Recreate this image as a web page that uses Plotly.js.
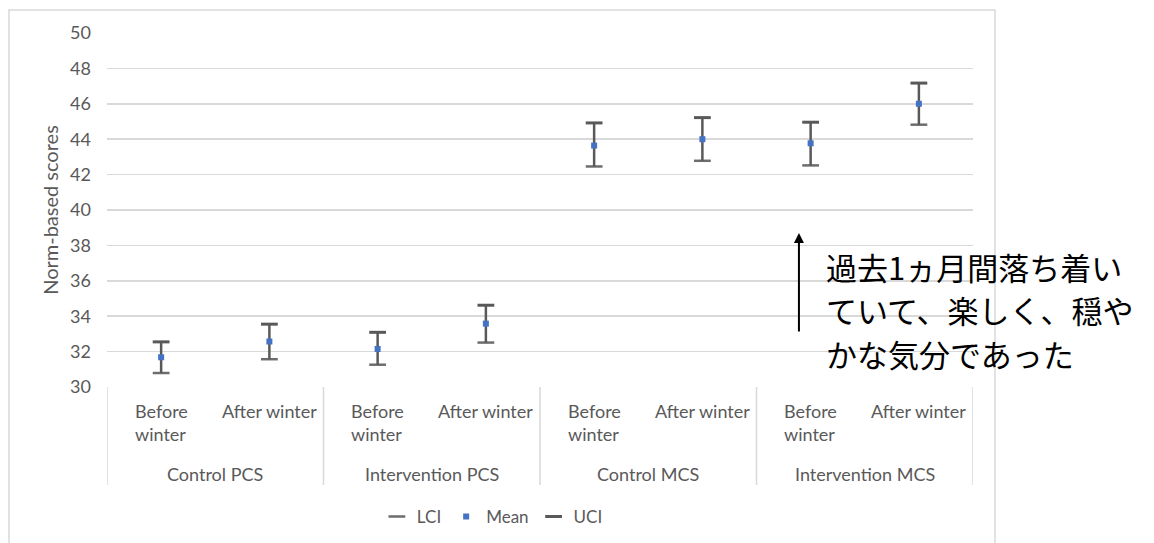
<!DOCTYPE html>
<html>
<head>
<meta charset="utf-8">
<script src="https://cdn.plot.ly/plotly-3.0.1.min.js"></script>
<style>html,body{margin:0;padding:0;background:#fff;}#chart{width:1154px;height:543px;}</style>
</head>
<body>
<div id="chart"></div>
<script>
const groups = ['Control PCS', 'Intervention PCS', 'Control MCS', 'Intervention MCS'];
const phases = ['Before<br>winter', 'After winter'];
const meanVals = [31.68, 32.57, 32.15, 33.58, 43.64, 44.0, 43.77, 46.0];
const lciVals  = [30.79, 31.57, 31.26, 32.51, 42.46, 42.78, 42.52, 44.82];
const uciVals  = [32.55, 33.55, 33.09, 34.62, 44.92, 45.22, 44.96, 47.17];
const yTicks = [30, 32, 34, 36, 38, 40, 42, 44, 46, 48, 50];
const noteLines = ['過去1ヵ月間落ち着い', 'ていて、楽しく、穏や', 'かな気分であった'];

const pos = meanVals.map((_, i) => i + 1);
const gray = '#595959';
const font = 'Lato, "Open Sans", "Liberation Sans", sans-serif';

const traces = [
  {
    name: 'LCI', x: pos, y: lciVals, type: 'scatter', mode: 'markers',
    marker: {symbol: 'line-ew', size: 12, color: '#6d6d6d', line: {color: '#6d6d6d', width: 2.5}},
    hoverinfo: 'y'
  },
  {
    name: 'Mean', x: pos, y: meanVals, type: 'scatter', mode: 'markers',
    marker: {symbol: 'square', size: 6, color: '#4472c4'},
    error_y: {
      type: 'data', symmetric: false,
      array: uciVals.map((u, i) => u - meanVals[i]),
      arrayminus: lciVals.map((l, i) => meanVals[i] - l),
      color: gray, thickness: 2.5, width: 0
    }
  },
  {
    name: 'UCI', x: pos, y: uciVals, type: 'scatter', mode: 'markers',
    marker: {symbol: 'line-ew', size: 12, color: gray, line: {color: gray, width: 3}},
    hoverinfo: 'y'
  }
];

const annotations = [];
pos.forEach((p, i) => {
  annotations.push({
    x: p, xref: 'x', y: -0.03, yref: 'paper', yanchor: 'top', xanchor: 'center',
    text: phases[i % 2], showarrow: false, align: 'left',
    font: {family: font, size: 18, color: gray}
  });
});
groups.forEach((g, gi) => {
  annotations.push({
    x: gi * 2 + 1.5, xref: 'x', y: -0.245, yref: 'paper', yanchor: 'middle', xanchor: 'center',
    text: g, showarrow: false, font: {family: font, size: 18, color: gray}
  });
});
// arrow
annotations.push({
  x: 0.799, xref: 'paper', y: 0.435, yref: 'paper', text: '', showarrow: true,
  ax: 0, ay: 100, arrowhead: 2, arrowsize: 1, arrowwidth: 2, arrowcolor: '#000'
});
const noteY = [0.339, 0.220, 0.096];
noteLines.forEach((t, i) => {
  annotations.push({
    x: 0.8275, xref: 'paper', y: noteY[i], yref: 'paper', xanchor: 'left', yanchor: 'middle',
    text: t, showarrow: false,
    font: {family: '"Noto Sans CJK JP", sans-serif', size: 31, color: '#000'}
  });
});

const shapes = [];
// category box dividers
[0.5, 2.5, 4.5, 6.5, 8.5].forEach(xv => {
  shapes.push({type: 'line', xref: 'x', yref: 'paper', x0: xv, x1: xv, y0: 0, y1: -0.277,
    line: {color: '#d9d9d9', width: 1.5}});
});
// outer chart border
shapes.push({type: 'rect', xref: 'paper', yref: 'paper', x0: -0.1132, x1: 1.0254, y0: -0.47, y1: 1.065,
  line: {color: '#d9d9d9', width: 1.5}, fillcolor: 'rgba(0,0,0,0)'});

const layout = {
  width: 1154, height: 543,
  margin: {l: 107, r: 181, t: 33, b: 156, autoexpand: false},
  paper_bgcolor: '#fff', plot_bgcolor: '#fff',
  showlegend: true,
  legend: {
    orientation: 'h', x: 0.445, xanchor: 'center', y: -0.367, yanchor: 'middle',
    font: {family: font, size: 17, color: gray}, itemwidth: 30, traceorder: 'normal'
  },
  xaxis: {
    range: [0.5, 8.5], showticklabels: false, showgrid: false, zeroline: false,
    showline: false, ticks: '', fixedrange: true
  },
  yaxis: {
    range: [30, 50], tickvals: yTicks, ticktext: yTicks.map(String),
    showgrid: true, gridcolor: '#d9d9d9', gridwidth: 1.5, zeroline: false,
    showline: false, ticks: '', ticklabelstandoff: 15,
    tickfont: {family: font, size: 18, color: gray},
    title: {text: 'Norm-based scores', standoff: 6, font: {family: font, size: 20, color: gray}}
  },
  annotations: annotations,
  shapes: shapes
};

Plotly.newPlot('chart', traces, layout, {displayModeBar: false, staticPlot: true});
</script>
</body>
</html>
